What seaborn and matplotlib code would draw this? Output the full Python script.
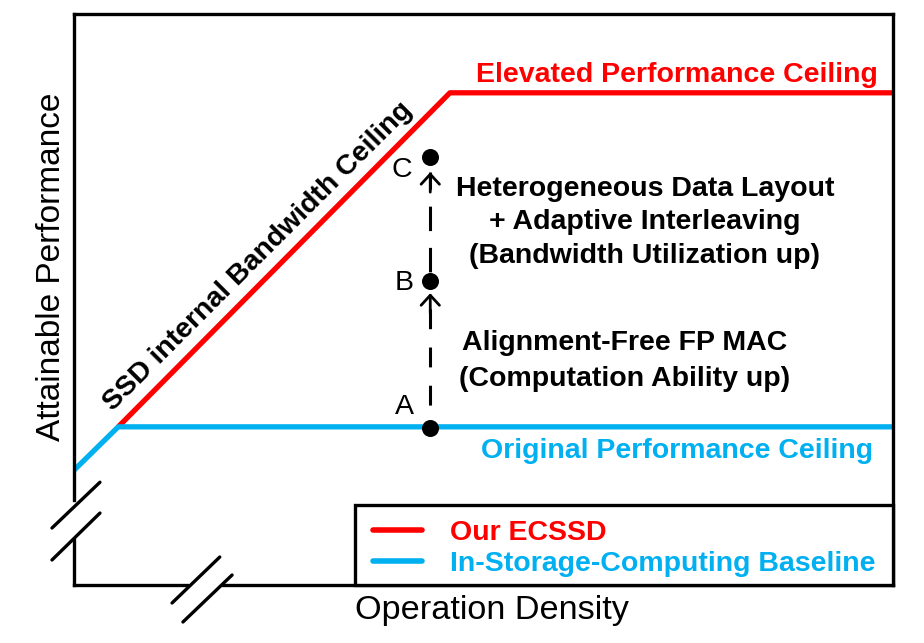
import matplotlib
matplotlib.use("Agg")
import matplotlib.pyplot as plt
import seaborn as sns
import pandas as pd
from matplotlib.lines import Line2D
from matplotlib.patches import Rectangle

# ---------------- data ----------------
series_names = ["Our ECSSD", "In-Storage-Computing Baseline"]
ecssd_x = [5.4, 45.9, 100.0]
ecssd_y = [27.7, 86.2, 86.2]
base_x = [0.0, 5.4, 100.0]
base_y = [20.1, 27.7, 27.7]
point_labels = ["A", "B", "C"]
point_x = [43.5, 43.5, 43.5]
point_y = [27.5, 53.2, 75.0]
arrow_tip_y = [51.1, 72.3]

RED = "#FF0000"
BLUE = "#00B0F0"
FS = 20.5

sns.set_theme(style="white")
plt.rcParams["font.family"] = ["Liberation Sans", "DejaVu Sans"]

fig = plt.figure(figsize=(9.24, 6.43), dpi=100)
ax = fig.add_axes([74 / 924, 58 / 643, 819 / 924, 571 / 643])
ax.set_xlim(0, 100)
ax.set_ylim(0, 100)
ax.set_xticks([])
ax.set_yticks([])
for s in ax.spines.values():
    s.set_visible(False)

df = pd.DataFrame({
    "x": ecssd_x + base_x,
    "y": ecssd_y + base_y,
    "series": [series_names[0]] * 3 + [series_names[1]] * 3,
})
sns.lineplot(data=df, x="x", y="y", hue="series", palette=[RED, BLUE],
             estimator=None, sort=False, linewidth=3.8, legend=False, ax=ax,
             solid_capstyle="butt")
ax.set_xlabel("")
ax.set_ylabel("")

# dashed arrows between points
ax.plot([point_x[0], point_x[0]], [point_y[0], arrow_tip_y[0]], color="black",
        lw=2.2, linestyle=(5, (6.5, 6)), zorder=3)
ax.plot([point_x[1], point_x[1]], [point_y[1], arrow_tip_y[1]], color="black",
        lw=2.2, linestyle=(-3, (8, 5.5)), zorder=3)
for tip in arrow_tip_y:
    ax.annotate("", xy=(point_x[0], tip), xytext=(point_x[0], tip - 3.5),
                arrowprops=dict(arrowstyle="->,head_length=0.6,head_width=0.55",
                                lw=2.0, color="black", shrinkA=0, shrinkB=0),
                zorder=4)

sns.scatterplot(x=point_x, y=point_y, color="black", s=150, edgecolor="black",
                linewidth=0, zorder=5, ax=ax)

lbl_pos = [(40.3, 31.2), (40.3, 52.9), (40.0, 72.7)]
for lab, (lx, ly) in zip(point_labels, lbl_pos):
    ax.text(lx, ly, lab, ha="center", va="center", fontsize=FS, color="black")

# texts
bold = dict(fontsize=FS, fontweight="bold")
ax.text(98.2, 89.4, "Elevated Performance Ceiling", ha="right", va="center",
        color=RED, **bold)
ax.text(97.6, 23.5, "Original Performance Ceiling", ha="right", va="center",
        color=BLUE, **bold)
ax.text(22.5, 57.6, "SSD internal Bandwidth Ceiling", ha="center", va="center",
        rotation=45, rotation_mode="anchor", color="black", **bold)
for t, yy in zip(["Heterogeneous Data Layout", "+ Adaptive Interleaving",
                  "(Bandwidth Utilization up)"], [69.3, 63.5, 57.6]):
    ax.text(69.7, yy, t, ha="center", va="center", color="black", **bold)
for t, yy in zip(["Alignment-Free FP MAC", "(Computation Ability up)"], [42.4, 36.1]):
    ax.text(67.2, yy, t, ha="center", va="center", color="black", **bold)

# frame with breaks
fr = dict(color="black", lw=2.4, transform=ax.transAxes, clip_on=False,
          solid_capstyle="projecting", zorder=6)
ax.plot([0, 1], [1, 1], **fr)
ax.plot([1, 1], [0, 1], **fr)
ax.plot([0, 0], [0.149, 1], **fr)
ax.plot([0, 0], [0, 0.079], **fr)
ax.plot([0, 0.138], [0, 0], **fr)
ax.plot([0.182, 1], [0, 0], **fr)
brk = dict(color="black", lw=2.4, transform=ax.transAxes, clip_on=False,
           solid_capstyle="round", zorder=6)
ax.plot([-0.0269, 0.0317], [0.0998, 0.180], **brk)
ax.plot([-0.0269, 0.0317], [0.0438, 0.126], **brk)
ax.plot([0.1197, 0.178], [-0.0315, 0.049], **brk)
ax.plot([0.133, 0.193], [-0.0648, 0.0175], **brk)

# legend box + legend
ax.add_patch(Rectangle((0.343, 0.0), 0.657, 0.14, transform=ax.transAxes,
                       facecolor="white", edgecolor="black", lw=2.4,
                       clip_on=False, zorder=6))
handles = [Line2D([0], [0], color=RED, lw=4.0, solid_capstyle="round"),
           Line2D([0], [0], color=BLUE, lw=4.0, solid_capstyle="round")]
leg = ax.legend(handles, series_names, loc="center left",
                bbox_to_anchor=(0.365, 0.064), frameon=False,
                borderaxespad=0, borderpad=0, handlelength=1.72,
                handletextpad=0.98, labelspacing=0.2, labelcolor="linecolor",
                prop=dict(family=["Liberation Sans", "DejaVu Sans"], size=FS,
                          weight="bold"))
leg.set_zorder(7)

# axis labels
fig.text(52 / 924, 1 - 267 / 643, "Attainable Performance", rotation=90,
         ha="center", va="center", fontsize=24.0, color="black")
fig.text(492 / 924, 1 - 611 / 643, "Operation Density", ha="center", va="center",
         fontsize=24.7, color="black")

fig.savefig("out.png", dpi=100, facecolor="white")
